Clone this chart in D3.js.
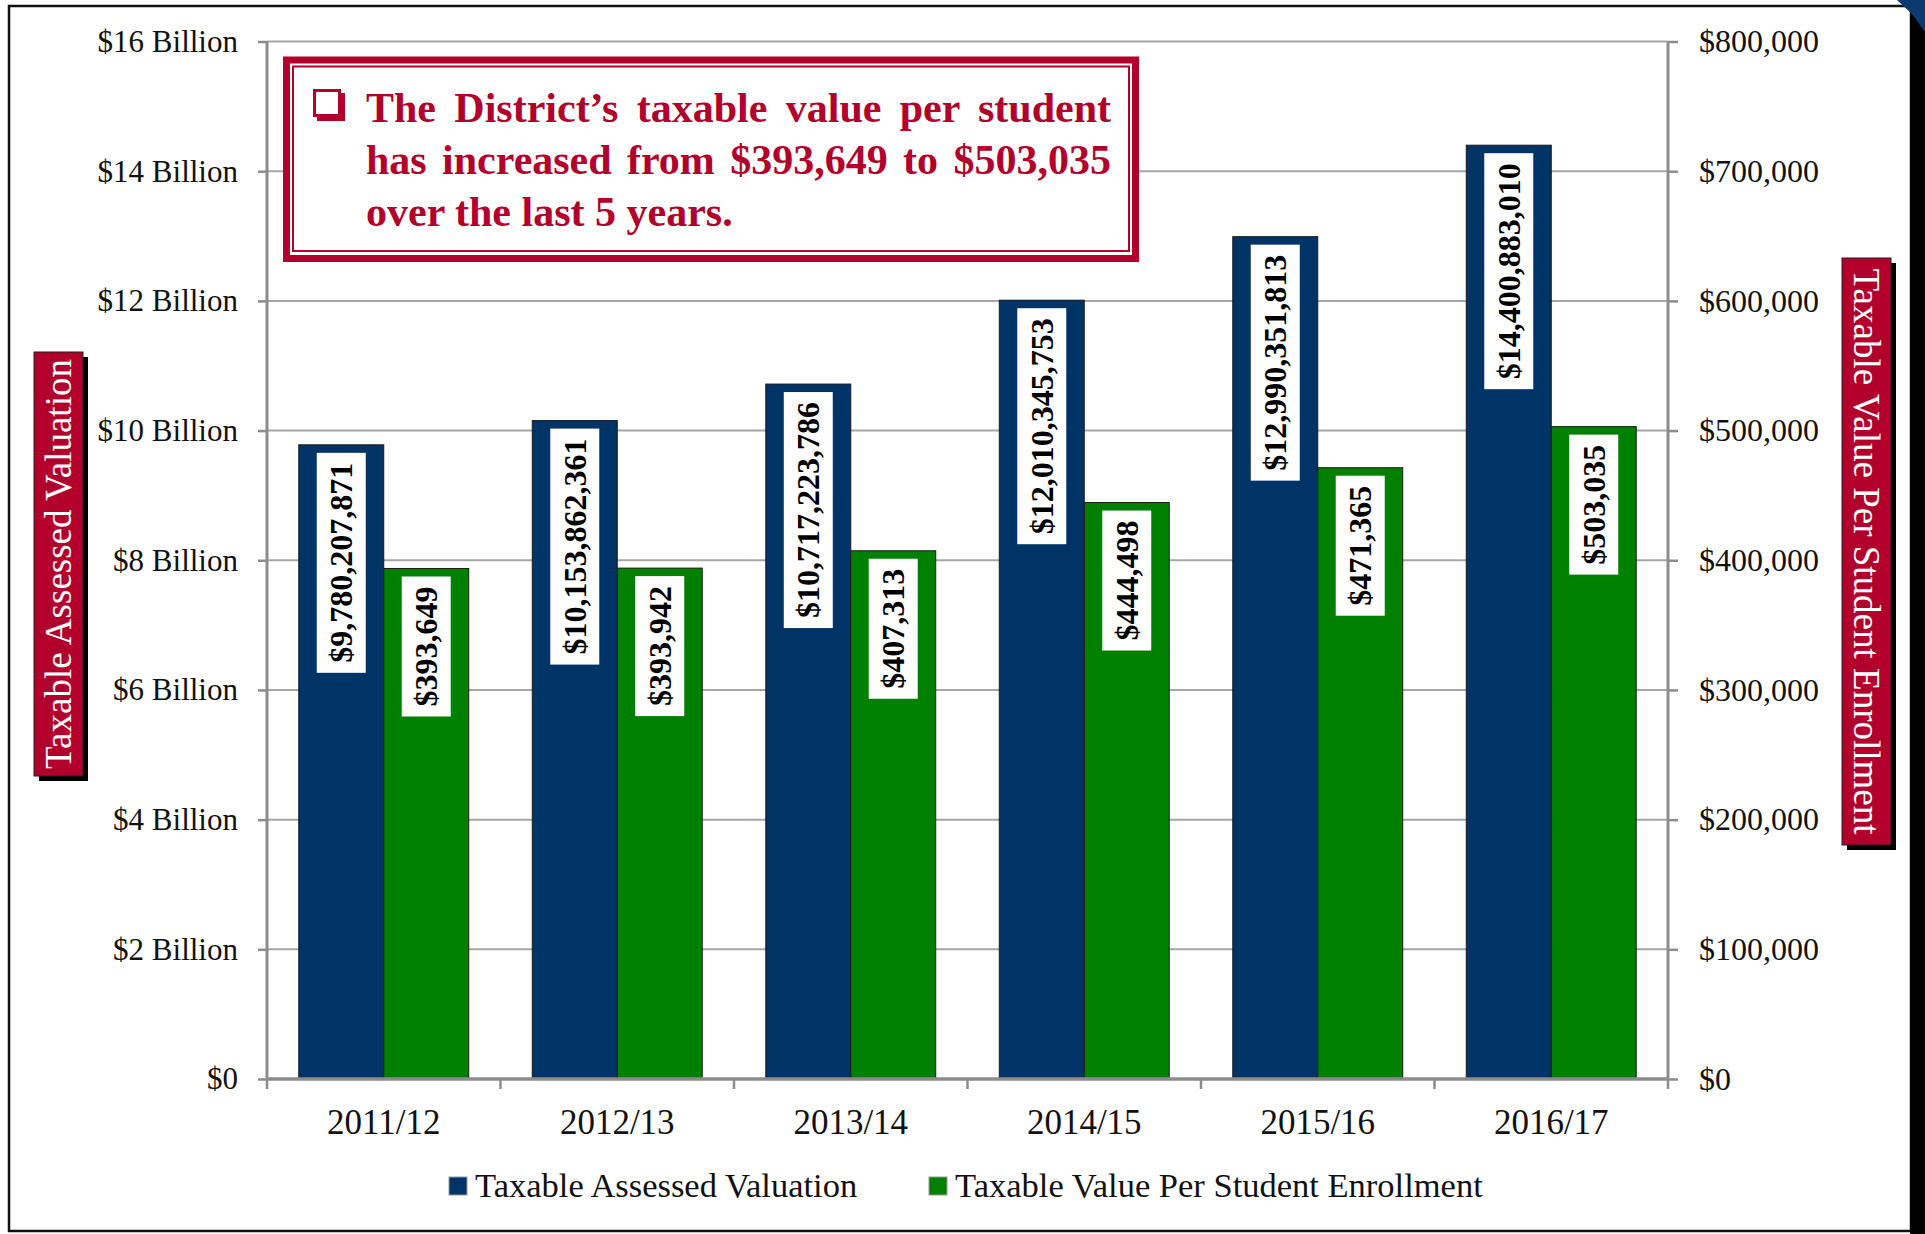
<!DOCTYPE html>
<html>
<head>
<meta charset="utf-8">
<script src="https://cdn.jsdelivr.net/npm/d3@7"></script>
<style>
  html, body { margin: 0; padding: 0; background: #ffffff; }
  svg { display: block; }
  text { font-family: "Liberation Serif", "Times New Roman", serif; }
</style>
</head>
<body>
<svg id="chart" width="1925" height="1234"></svg>
<script>
// ---------------- DATA ----------------
const categories = ["2011/12", "2012/13", "2013/14", "2014/15", "2015/16", "2016/17"];
const assessedValuation = [9780207871, 10153862361, 10717223786, 12010345753, 12990351813, 14400883010];
const valuePerStudent = [393649, 393942, 407313, 444498, 471365, 503035];
const seriesNames = ["Taxable Assessed Valuation", "Taxable Value Per Student Enrollment"];
const seriesColors = ["#003366", "#008000"];
const leftTickValues = [0, 2e9, 4e9, 6e9, 8e9, 10e9, 12e9, 14e9, 16e9];
const leftTickLabels = ["$0", "$2 Billion", "$4 Billion", "$6 Billion", "$8 Billion", "$10 Billion", "$12 Billion", "$14 Billion", "$16 Billion"];
const rightTickValues = [0, 100000, 200000, 300000, 400000, 500000, 600000, 700000, 800000];
const rightTickLabels = ["$0", "$100,000", "$200,000", "$300,000", "$400,000", "$500,000", "$600,000", "$700,000", "$800,000"];
const leftTitle = "Taxable Assessed Valuation";
const rightTitle = "Taxable Value Per Student Enrollment";
const calloutLines = [
  "The District\u2019s taxable value per student",
  "has increased from $393,649 to $503,035",
  "over the last 5 years."
];

// ---------------- LAYOUT ----------------
const svg = d3.select("#chart");
const plot = { left: 267, right: 1668, top: 41.5, bottom: 1079 };
const red = "#B0002B";

const x0 = d3.scaleBand().domain(categories).range([plot.left, plot.right]).padding(0);
const x1 = d3.scaleBand().domain([0, 1]).range([0, x0.bandwidth()]).paddingInner(0).paddingOuter(0.374);
const yL = d3.scaleLinear().domain([0, 16e9]).range([plot.bottom, plot.top]);
const yR = d3.scaleLinear().domain([0, 800000]).range([plot.bottom, plot.top]);

// Outer frame
svg.append("rect").attr("x", 9).attr("y", 6).attr("width", 1902).attr("height", 1225)
  .attr("fill", "#ffffff").attr("stroke", "#111").attr("stroke-width", 2.5);
svg.append("rect").attr("x", 1910).attr("y", 5).attr("width", 15).attr("height", 1229).attr("fill", "#000");
svg.append("polygon").attr("points", "1897,0 1925,0 1925,32 1912,14").attr("fill", "#0a3a6e");

// Gridlines
svg.append("g").selectAll("line").data(leftTickValues.slice(1)).join("line")
  .attr("x1", plot.left).attr("x2", plot.right)
  .attr("y1", d => yL(d)).attr("y2", d => yL(d))
  .attr("stroke", "#A6A6A6").attr("stroke-width", 2);

// Bars
const groups = svg.append("g").selectAll("g").data(categories).join("g")
  .attr("transform", d => `translate(${x0(d)},0)`);

const barData = (c, i) => [
  { s: 0, v: assessedValuation[i], y: yL(assessedValuation[i]) },
  { s: 1, v: valuePerStudent[i], y: yR(valuePerStudent[i]) }
];

groups.selectAll("rect").data(barData).join("rect")
  .attr("x", d => x1(d.s)).attr("width", x1.bandwidth())
  .attr("y", d => d.y).attr("height", d => plot.bottom - d.y)
  .attr("fill", d => seriesColors[d.s])
  .attr("stroke", "#1a1a1a").attr("stroke-width", 1);

// Data labels
const fmt = d3.format("$,");
groups.each(function(c, i) {
  const g = d3.select(this);
  barData(c, i).forEach(d => {
    const cx = x1(d.s) + x1.bandwidth() / 2;
    const boxTop = d.y + 8;
    const lg = g.append("g");
    const box = lg.append("rect").attr("fill", "#fff");
    const t = lg.append("text")
      .attr("transform", `translate(${cx},${boxTop + 10}) rotate(-90)`)
      .attr("text-anchor", "end").attr("dy", "0.34em")
      .attr("font-size", 32).attr("font-weight", "bold").attr("fill", "#000")
      .text(fmt(d.v));
    const len = t.node().getComputedTextLength();
    box.attr("x", cx - 24.5).attr("y", boxTop).attr("width", 49).attr("height", len + 20);
  });
});

// Axes
const axisColor = "#8C8C8C";
const gL = svg.append("g").attr("transform", `translate(${plot.left},0)`)
  .call(d3.axisLeft(yL).tickValues(leftTickValues).tickFormat((d, i) => leftTickLabels[i]).tickSize(9).tickPadding(20));
const gR = svg.append("g").attr("transform", `translate(${plot.right},0)`)
  .call(d3.axisRight(yR).tickValues(rightTickValues).tickFormat((d, i) => rightTickLabels[i]).tickSize(10).tickPadding(21));
[gL, gR].forEach(g => {
  g.select(".domain").attr("stroke", axisColor).attr("stroke-width", 3)
    .attr("d", `M0,${plot.top}V${plot.bottom}`);
  g.selectAll(".tick line").attr("stroke", axisColor).attr("stroke-width", 2.5);
  g.selectAll(".tick text").attr("font-size", 31).attr("fill", "#111")
    .attr("font-family", "Liberation Serif, serif");
});
gR.selectAll(".tick text").attr("font-size", 32);

// X axis
const gX = svg.append("g");
gX.append("line").attr("x1", plot.left).attr("x2", plot.right)
  .attr("y1", plot.bottom).attr("y2", plot.bottom)
  .attr("stroke", axisColor).attr("stroke-width", 3.5);
const boundaries = categories.map(c => x0(c)).concat([plot.right]);
gX.selectAll("line.tk").data(boundaries).join("line").attr("class", "tk")
  .attr("x1", d => d).attr("x2", d => d)
  .attr("y1", plot.bottom).attr("y2", plot.bottom + 10)
  .attr("stroke", axisColor).attr("stroke-width", 2.5);
gX.selectAll("text").data(categories).join("text")
  .attr("x", d => x0(d) + x0.bandwidth() / 2).attr("y", 1134)
  .attr("text-anchor", "middle").attr("font-size", 35).attr("fill", "#111")
  .text(d => d);

// Legend
const legendX = [449, 929];
const lg = svg.append("g").selectAll("g").data(seriesNames).join("g")
  .attr("transform", (d, i) => `translate(${legendX[i]},1186)`);
lg.append("rect").attr("x", 0).attr("y", -9).attr("width", 18).attr("height", 18)
  .attr("fill", (d, i) => seriesColors[i]).attr("stroke", "#999").attr("stroke-width", 1);
lg.append("text").attr("x", 26).attr("y", 11).attr("font-size", 34.5).attr("fill", "#111")
  .text(d => d);

// Axis titles
function axisTitle(x, y, w, h, label, rot) {
  const g = svg.append("g");
  g.append("rect").attr("x", x + 5).attr("y", y + 5).attr("width", w).attr("height", h).attr("fill", "#000");
  g.append("rect").attr("x", x).attr("y", y).attr("width", w).attr("height", h)
    .attr("fill", red).attr("stroke", "#222").attr("stroke-width", 1);
  g.append("text")
    .attr("transform", `translate(${x + w / 2},${y + h / 2}) rotate(${rot})`)
    .attr("text-anchor", "middle").attr("dy", "0.35em")
    .attr("font-size", 37).attr("fill", "#fff").text(label);
}
axisTitle(34, 352, 49, 424, leftTitle, -90);
axisTitle(1842, 258, 49, 587, rightTitle, 90);

// Callout box
const cb = svg.append("g");
cb.append("rect").attr("x", 286.5).attr("y", 60).attr("width", 849).attr("height", 198.5)
  .attr("fill", "#fff").attr("stroke", red).attr("stroke-width", 7);
cb.append("rect").attr("x", 293).attr("y", 66.5).attr("width", 836).attr("height", 184.5)
  .attr("fill", "none").attr("stroke", red).attr("stroke-width", 2);
// bullet (hollow square with shadow)
cb.append("rect").attr("x", 317).attr("y", 93).attr("width", 28).attr("height", 28).attr("fill", red);
cb.append("rect").attr("x", 314.5).attr("y", 90.5).attr("width", 25).attr("height", 25)
  .attr("fill", "#fff").attr("stroke", red).attr("stroke-width", 3);

const textLeft = 366, textRight = 1111;
const baselines = [122, 174, 226];
calloutLines.forEach((line, i) => {
  const t = cb.append("text").attr("x", textLeft).attr("y", baselines[i])
    .attr("font-size", 42).attr("font-weight", "bold").attr("fill", red).text(line);
  if (i < calloutLines.length - 1) {
    const natural = t.node().getComputedTextLength();
    const spaces = (line.match(/ /g) || []).length;
    t.attr("word-spacing", (textRight - textLeft - natural) / spaces);
  }
});
</script>
</body>
</html>
